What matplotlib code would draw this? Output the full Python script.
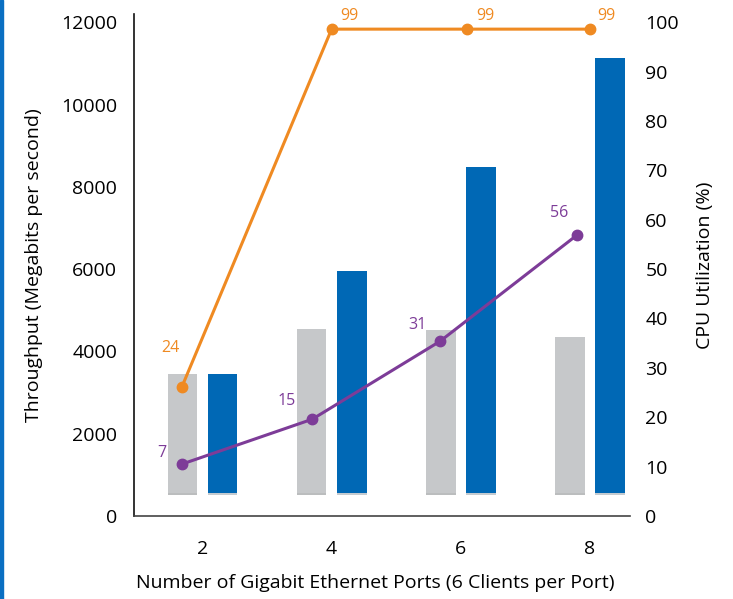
import matplotlib
matplotlib.use("Agg")
import matplotlib.pyplot as plt
from matplotlib.patches import Rectangle
import numpy as np

# ---- data ----
ports = ["2", "4", "6", "8"]
throughput_gray = [3450, 4540, 4520, 4350]
throughput_blue = [3450, 5950, 8480, 11120]
cpu_orange = [26.1, 98.6, 98.6, 98.6]
cpu_purple = [10.5, 19.6, 35.4, 56.9]
orange_labels = ["24", "99", "99", "99"]
purple_labels = ["7", "15", "31", "56"]
left_ticks = [0, 2000, 4000, 6000, 8000, 10000, 12000]
right_ticks = [0, 10, 20, 30, 40, 50, 60, 70, 80, 90, 100]

# ---- style ----
plt.rcParams['font.family'] = ['Open Sans', 'DejaVu Sans']
GRAY = "#c6c8ca"
GRAY_DARK = "#8f9193"
BLUE = "#0068b5"
ORANGE = "#ef8a22"
PURPLE = "#7d3c98"
BAR_BASE = 560
BAR_W = 0.23
BAR_OFF = 0.155

fig = plt.figure(figsize=(7.33, 5.99), dpi=100)
ax = fig.add_axes([134/733, 1-516/599, (630-134)/733, (516-14)/599])
ax2 = ax.twinx()

x = np.arange(len(ports))
gray_h = [v - BAR_BASE for v in throughput_gray]
blue_h = [v - BAR_BASE for v in throughput_blue]
ax.bar(x - BAR_OFF, gray_h, BAR_W, bottom=BAR_BASE, color=GRAY, zorder=2)
ax.bar(x + BAR_OFF, blue_h, BAR_W, bottom=BAR_BASE, color=BLUE, zorder=2)
# darker base shadow
ax.bar(x - BAR_OFF, [120]*len(x), BAR_W, bottom=BAR_BASE - 60, color=GRAY_DARK, alpha=0.6, zorder=1)
ax.bar(x + BAR_OFF, [120]*len(x), BAR_W, bottom=BAR_BASE - 60, color="#5a6a7a", alpha=0.35, zorder=1)

ax.set_xlim(-0.53, 3.31)
ax.set_ylim(0, 12200)
ax.set_yticks(left_ticks)
ax.set_xticks(x)
ax.set_xticklabels(ports)
ax2.set_ylim(0, 100 * 12200 / 12000)
ax2.set_yticks(right_ticks)

orange_x = x + np.array([-0.16, 0.0, 0.05, 0.0])
purple_x = x + np.array([-0.16, -0.15, -0.16, -0.1])
ax2.plot(orange_x, cpu_orange, color=ORANGE, lw=2.2, marker="o", ms=7.5, zorder=5)
ax2.plot(purple_x, cpu_purple, color=PURPLE, lw=2.2, marker="o", ms=7.5, zorder=5)

o_off = [(-11, 39), (18, 13), (18, 13), (16, 13)]
p_off = [(-20, 11), (-26, 18), (-23, 16), (-18, 22)]
for xi, yi, lab, (dx, dy) in zip(orange_x, cpu_orange, orange_labels, o_off):
    ax2.annotate(lab, (xi, yi), xytext=(dx*0.72, dy*0.72), textcoords="offset points",
                 ha="center", va="center", color=ORANGE, fontsize=11.5)
for xi, yi, lab, (dx, dy) in zip(purple_x, cpu_purple, purple_labels, p_off):
    ax2.annotate(lab, (xi, yi), xytext=(dx*0.72, dy*0.72), textcoords="offset points",
                 ha="center", va="center", color=PURPLE, fontsize=11.5)

for a in (ax, ax2):
    a.spines["top"].set_visible(False)
    a.spines["right"].set_visible(False)
    a.tick_params(length=0)
ax2.spines["left"].set_visible(False)
ax2.spines["bottom"].set_visible(False)
ax.spines["left"].set_color("#111111")
ax.spines["bottom"].set_color("#444444")
ax.spines["left"].set_linewidth(1.2)
ax.spines["bottom"].set_linewidth(1.2)

ax.tick_params(axis="y", labelsize=14, pad=12)
ax.tick_params(axis="x", labelsize=14, pad=17)
ax2.tick_params(axis="y", labelsize=14, pad=11)

ax.set_ylabel("Throughput (Megabits per second)", fontsize=14)
ax.yaxis.set_label_coords(-(134-43)/496, 0.5)
ax2.set_ylabel("CPU Utilization (%)", fontsize=14)
ax2.yaxis.set_label_coords((696-134)/496, 0.5)
ax.set_xlabel("Number of Gigabit Ethernet Ports (6 Clients per Port)", fontsize=14)
ax.xaxis.set_label_coords((375-134)/496, -(574-516)/502)

fig.patches.append(Rectangle((0, 0), 3/733, 1, transform=fig.transFigure, color="#0a6fc2"))

fig.savefig("out.png", dpi=100)
